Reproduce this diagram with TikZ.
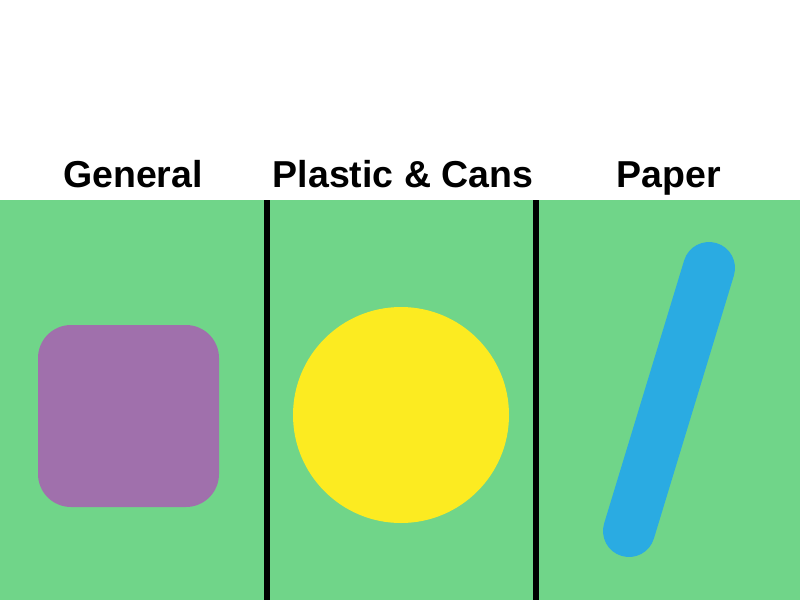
\documentclass[tikz,border=0pt]{standalone}
\usepackage{fontspec}
\setmainfont{Liberation Sans}
\definecolor{bingreen}{HTML}{70D589}
\definecolor{binpurple}{HTML}{A070AC}
\definecolor{binyellow}{HTML}{FCEB21}
\definecolor{binblue}{HTML}{2AABE2}
\tikzset{
  binlabel/.style={font=\bfseries\fontsize{37.5}{45}\selectfont, anchor=base, inner sep=0pt},
  divider/.style={line width=6pt, black}
}
\begin{document}
\begin{tikzpicture}[x=1pt,y=-1pt]
\useasboundingbox (0,0) rectangle (800,600);
\fill[white] (0,0) rectangle (800,600);
\fill[bingreen] (0,200) rectangle (800,600);
\draw[divider] (267,200) -- (267,600);
\draw[divider] (536,200) -- (536,600);
\node[binlabel] (general) at (133,187) {General};
\node[binlabel] (plastic) at (403,187) {Plastic \& Cans};
\node[binlabel] (paper) at (669,187) {Paper};
\fill[binpurple, rounded corners=33pt] (38,325) rectangle (219,507);
\fill[binyellow] (401,415) circle (108);
\draw[binblue, line width=52pt, line cap=round] (709,268) -- (629,531);
\end{tikzpicture}
\end{document}
